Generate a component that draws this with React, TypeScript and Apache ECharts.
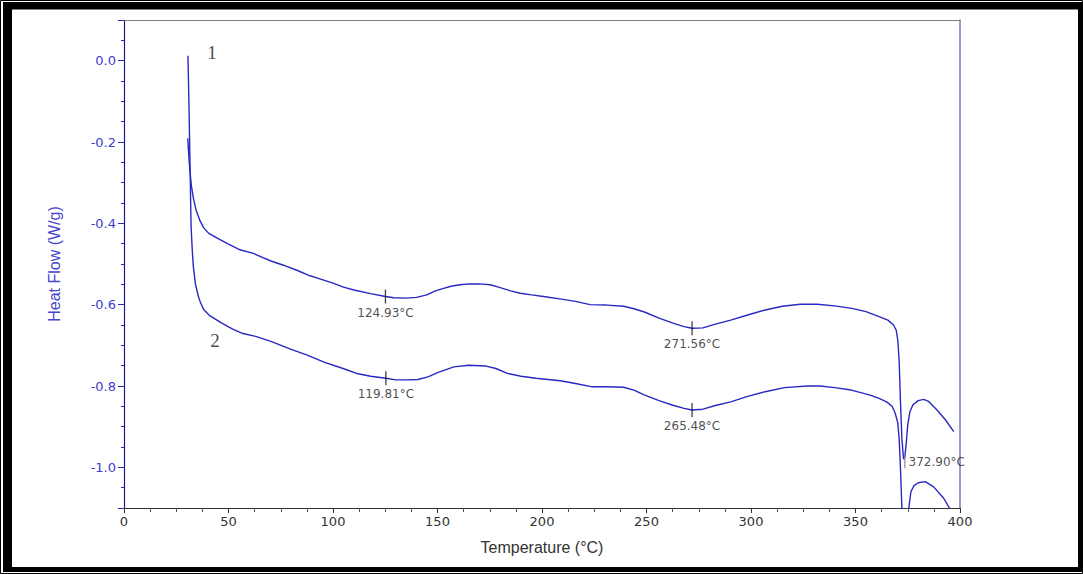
import React, { useEffect, useRef } from "react";
import * as echarts from "echarts";

// Curve 1 (upper branch): [temperature °C, heat flow W/g]
const upperCurve: [number, number][] = [
  [30.5, -0.191], [31.0, -0.235], [31.6, -0.274], [32.3, -0.31], [33.2, -0.338],
  [34.5, -0.368], [36.4, -0.394], [38.0, -0.41], [40.4, -0.424], [44.4, -0.436],
  [50.0, -0.451], [55.5, -0.465], [61.9, -0.474], [65.1, -0.481], [70.0, -0.492],
  [76.3, -0.503], [83.0, -0.516], [89.0, -0.529], [92.2, -0.534], [100.0, -0.547],
  [105.0, -0.557], [110.0, -0.564], [118.0, -0.573], [125.1, -0.58], [129.0, -0.583],
  [135.0, -0.584], [140.0, -0.582], [144.9, -0.576], [149.0, -0.566], [152.9, -0.56],
  [157.0, -0.554], [160.8, -0.551], [165.0, -0.549], [170.0, -0.549], [175.2, -0.551],
  [180.0, -0.558], [185.0, -0.566], [189.6, -0.572], [195.0, -0.576], [200.7, -0.58],
  [210.0, -0.587], [216.0, -0.592], [223.0, -0.6], [231.0, -0.601], [239.0, -0.604],
  [244.0, -0.61], [249.0, -0.618], [256.0, -0.633], [263.0, -0.646], [268.0, -0.654],
  [271.8, -0.658], [277.0, -0.657], [283.0, -0.648], [290.3, -0.638], [298.0, -0.626],
  [306.8, -0.613], [315.0, -0.604], [323.5, -0.599], [331.7, -0.599], [340.0, -0.603],
  [348.3, -0.609], [355.0, -0.617], [361.6, -0.63], [365.5, -0.638], [368.2, -0.65],
  [369.5, -0.663], [370.3, -0.69], [370.9, -0.74], [371.5, -0.835], [372.2, -0.93],
  [373.0, -0.98], [373.6, -0.975], [374.3, -0.94], [375.0, -0.895], [376.0, -0.864],
  [377.5, -0.846], [380.0, -0.836], [382.6, -0.833], [385.0, -0.838], [389.0, -0.859],
  [393.0, -0.883], [397.0, -0.912],
];

// Curve 2 (lower branch): [temperature °C, heat flow W/g]
const lowerCurve: [number, number][] = [
  [30.6, 0.012], [31.1, -0.113], [31.6, -0.26], [32.1, -0.408], [32.7, -0.47],
  [33.2, -0.507], [34.2, -0.55], [35.6, -0.58], [36.4, -0.592], [38.1, -0.612],
  [41.0, -0.627], [46.6, -0.645], [52.0, -0.66], [56.9, -0.671], [63.0, -0.678],
  [70.6, -0.691], [80.0, -0.71], [87.7, -0.724], [96.0, -0.742], [104.8, -0.757],
  [112.0, -0.77], [118.0, -0.776], [125.3, -0.781], [130.0, -0.785], [136.0, -0.785],
  [140.7, -0.784], [145.8, -0.777], [150.0, -0.767], [157.8, -0.753], [165.0, -0.749],
  [173.2, -0.751], [178.0, -0.757], [183.4, -0.769], [190.0, -0.776], [197.1, -0.781],
  [208.7, -0.787], [216.0, -0.794], [224.0, -0.802], [231.0, -0.802], [239.0, -0.803],
  [244.0, -0.81], [248.9, -0.822], [256.0, -0.836], [263.0, -0.848], [268.0, -0.855],
  [271.8, -0.859], [277.0, -0.857], [283.0, -0.848], [290.3, -0.839], [298.0, -0.826],
  [306.8, -0.814], [316.0, -0.804], [326.8, -0.8], [333.0, -0.8], [340.0, -0.804],
  [348.0, -0.81], [356.6, -0.822], [361.0, -0.83], [364.9, -0.839], [367.5, -0.85],
  [369.0, -0.867], [370.2, -0.89], [370.9, -0.93], [371.5, -1.0], [372.2, -1.1],
  [373.0, -1.18], [374.5, -1.16], [375.5, -1.1], [376.5, -1.06], [378.0, -1.045],
  [380.0, -1.038], [383.4, -1.035], [387.4, -1.048], [392.2, -1.076], [394.6, -1.097],
  [396.5, -1.115],
];

// Peak annotations: [temperature, heat flow, label]
const peakMarks: [number, number, string][] = [
  [125.1, -0.58, "124.93°C"],
  [125.3, -0.781, "119.81°C"],
  [271.8, -0.658, "271.56°C"],
  [271.8, -0.859, "265.48°C"],
];
const sidePeakMark: [number, number, string][] = [[373.6, -0.986, "372.90°C"]];

// Curve numbers: [temperature, heat flow, label]
const curveNumbers: [number, number, string][] = [
  [42.1, 0.019, "1"],
  [43.6, -0.687, "2"],
];

const X_MIN = 0;
const X_MAX = 400;
const X_STEP = 50;
const Y_MIN = -1.1;
const Y_MAX = 0.1;

const CURVE_COLOR = "#2828c2";

export default function App() {
  const ref = useRef<HTMLDivElement>(null);

  useEffect(() => {
    if (!ref.current) return;
    const chart = echarts.init(ref.current, undefined, { renderer: "svg" });
    const option: any = {
      animation: false,
      backgroundColor: "#ffffff",
      textStyle: { fontFamily: "DejaVu Sans" },
      grid: { left: 124, right: 123, top: 20, bottom: 66 },
      graphic: [
        { type: "rect", shape: { x: 0.5, y: 0.5, width: 1082, height: 573 }, style: { fill: "none", stroke: "#000", lineWidth: 1 }, silent: true },
        { type: "rect", shape: { x: 3, y: 2, width: 1080, height: 7.5 }, style: { fill: "#000" }, silent: true },
        { type: "rect", shape: { x: 3, y: 2, width: 9, height: 570 }, style: { fill: "#000" }, silent: true },
        { type: "rect", shape: { x: 1078, y: 2, width: 5, height: 570 }, style: { fill: "#000" }, silent: true },
        { type: "rect", shape: { x: 3, y: 567, width: 1080, height: 5 }, style: { fill: "#000" }, silent: true },
      ],
      xAxis: [
        {
          type: "value",
          min: X_MIN,
          max: X_MAX,
          interval: X_STEP,
          position: "bottom",
          axisLine: { show: true, onZero: false, lineStyle: { color: "#333", width: 1 } },
          axisTick: { show: true, length: 5, lineStyle: { color: "#333" } },
          minorTick: { show: true, splitNumber: 4, length: 4, lineStyle: { color: "#555" } },
          splitLine: { show: false },
          axisLabel: { color: "#333", fontSize: 13, margin: 7 },
          name: "Temperature (°C)",
          nameLocation: "middle",
          nameGap: 31,
          nameTextStyle: { color: "#333", fontSize: 16, fontFamily: "Liberation Sans" },
        },
        {
          type: "value",
          min: X_MIN,
          max: X_MAX,
          position: "top",
          axisLine: { show: true, onZero: false, lineStyle: { color: "#808080", width: 1.2 } },
          axisTick: { show: false },
          axisLabel: { show: false },
          splitLine: { show: false },
        },
      ],
      yAxis: [
        {
          type: "value",
          min: Y_MIN,
          max: Y_MAX,
          splitNumber: 6,
          position: "left",
          axisLine: { show: true, onZero: false, lineStyle: { color: "#1a1a9e", width: 1.2 } },
          axisTick: { show: true, length: 6, lineStyle: { color: "#2a2aa8" } },
          minorTick: { show: true, splitNumber: 4, length: 3, lineStyle: { color: "#2a2aa8" } },
          splitLine: { show: false },
          axisLabel: {
            color: "#3d3dcc",
            fontSize: 13,
            margin: 8,
            showMinLabel: false,
            showMaxLabel: false,
            formatter: (v: number) => (Math.abs(v) < 1e-9 ? "0.0" : v.toFixed(1)),
          },
          name: "Heat Flow (W/g)",
          nameLocation: "middle",
          nameGap: 62,
          nameRotate: 90,
          nameTextStyle: { color: "#4646cc", fontSize: 16, fontFamily: "Liberation Sans" },
        },
        {
          type: "value",
          min: Y_MIN,
          max: Y_MAX,
          position: "right",
          axisLine: { show: true, onZero: false, lineStyle: { color: "#7a78c0", width: 1.5 } },
          axisTick: { show: false },
          axisLabel: { show: false },
          splitLine: { show: false },
        },
      ],
      series: [
        {
          type: "line",
          name: "1",
          data: upperCurve,
          showSymbol: false,
          symbol: "none",
          clip: true,
          lineStyle: { color: CURVE_COLOR, width: 1.4 },
        },
        {
          type: "line",
          name: "2",
          data: lowerCurve,
          showSymbol: false,
          symbol: "none",
          clip: true,
          lineStyle: { color: CURVE_COLOR, width: 1.4 },
        },
        {
          type: "scatter",
          data: peakMarks.map((p) => ({ value: [p[0], p[1]], name: p[2] })),
          symbol: "rect",
          symbolSize: [1.3, 14],
          itemStyle: { color: "#111" },
          z: 5,
          label: {
            show: true,
            position: "bottom",
            distance: 3,
            formatter: "{b}",
            fontSize: 12,
            color: "#222",
            fontFamily: "DejaVu Sans",
          },
        },
        {
          type: "scatter",
          data: sidePeakMark.map((p) => ({ value: [p[0], p[1]], name: p[2] })),
          symbol: "rect",
          symbolSize: [1.5, 13],
          itemStyle: { color: "#888" },
          z: 5,
          label: {
            show: true,
            position: "right",
            distance: 3,
            formatter: "{b}",
            fontSize: 12,
            color: "#222",
            fontFamily: "DejaVu Sans",
          },
        },
        {
          type: "scatter",
          data: curveNumbers.map((p) => ({ value: [p[0], p[1]], name: p[2] })),
          symbol: "circle",
          symbolSize: 1,
          itemStyle: { color: "rgba(0,0,0,0)" },
          z: 5,
          label: {
            show: true,
            position: "inside",
            formatter: "{b}",
            fontSize: 19,
            color: "#1a1a1a",
            fontFamily: "Liberation Serif",
          },
        },
      ],
    };
    chart.setOption(option);
    return () => chart.dispose();
  }, []);

  return (
    <div
      ref={ref}
      style={{ position: "absolute", left: 0, top: 0, width: 1083, height: 574, background: "#fff" }}
    />
  );
}
